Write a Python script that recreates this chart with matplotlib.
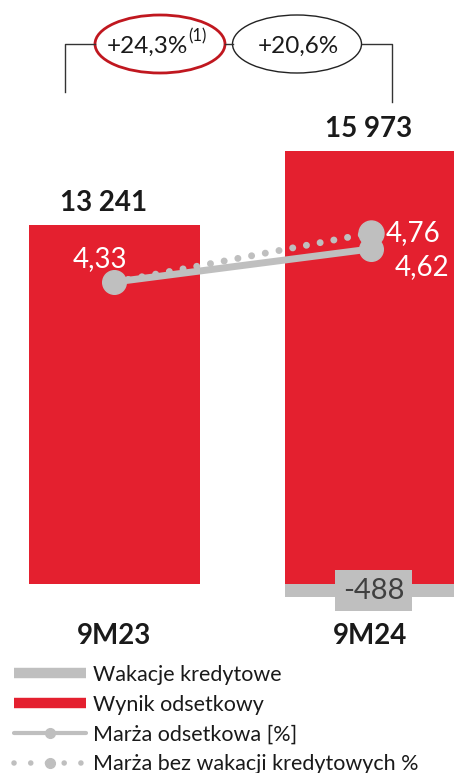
import matplotlib.pyplot as plt
from matplotlib.patches import Ellipse
from matplotlib.lines import Line2D

plt.rcParams['font.family'] = ['Lato', 'DejaVu Sans']

periods = ["9M23", "9M24"]
wynik = [13241, 15973]
wakacje = [0, -488]
marza = [4.33, 4.62]
marza_bez = [4.33, 4.76]
wynik_labels = ["13 241", "15 973"]
marza_labels = ["4,33", "4,62"]
marza_bez_label = "4,76"
wakacje_label = "-488"
growth_labels = ["+24,3%", "+20,6%"]

RED = "#E4202F"
GRAY = "#BFBFBF"

fig = plt.figure(figsize=(4.54, 7.73), dpi=100)
ax = fig.add_axes([0, 0, 1, 1])
ax.set_xlim(-0.447, 1.326)
ax.set_ylim(-6972, 21542)
ax.axis("off")

x = list(range(len(periods)))
ax.bar(x, wynik, width=0.668, color=RED, zorder=2)
ax.bar(x, wakacje, width=0.668, color=GRAY, zorder=2)

# value labels above bars
for xi, v, lab, dx in zip(x, wynik, wynik_labels, [-11, -2]):
    ax.annotate(lab, (xi, v), xytext=(dx, 22), textcoords="offset pixels",
                ha="center", va="center", fontsize=20, fontweight="bold", color="#1a1a1a")
for xi, lab in zip(x, periods):
    ax.annotate(lab, (xi, 0), xytext=(0, -52), textcoords="offset pixels",
                ha="center", va="center", fontsize=20, fontweight="bold", color="#1a1a1a")

ax.annotate(wakacje_label, (1, wakacje[1] / 2), xytext=(3, 0), textcoords="offset pixels",
            ha="center", va="center", fontsize=21, color="#404040",
            bbox=dict(boxstyle="square,pad=0.25", fc=GRAY, ec="none"), zorder=3)

# margin lines on secondary axis
ax2 = ax.twinx()
ax2.set_ylim(0.023, 6.804)
ax2.axis("off")
ax2.plot(x, marza_bez, color=GRAY, lw=5, linestyle=(0, (0.01, 2.0)),
         dash_capstyle="round", marker="o", markersize=18, markevery=[1], zorder=3)
ax2.plot(x, marza, color=GRAY, lw=5, solid_capstyle="round",
         marker="o", markersize=17, zorder=4)

ax2.annotate(marza_labels[0], (0, marza[0]), xytext=(-15, 23), textcoords="offset pixels",
             ha="center", va="center", fontsize=20, color="white")
ax2.annotate(marza_labels[1], (1, marza[1]), xytext=(51, -18), textcoords="offset pixels",
             ha="center", va="center", fontsize=20, color="white")
ax2.annotate(marza_bez_label, (1, marza_bez[1]), xytext=(43, 0), textcoords="offset pixels",
             ha="center", va="center", fontsize=20, color="white")

# growth bracket at the top (pixel coords overlay)
ov = fig.add_axes([0, 0, 1, 1], zorder=5)
ov.set_xlim(0, 454)
ov.set_ylim(773, 0)
ov.axis("off")
ov.plot([65, 65, 95], [92, 44, 44], color="#333333", lw=1)
ov.plot([225, 233], [44, 44], color="#333333", lw=1)
ov.plot([362, 392, 392], [44, 44, 102], color="#333333", lw=1)
ov.add_patch(Ellipse((160, 44), 130, 58, fc="white", ec="#C0171F", lw=2))
ov.add_patch(Ellipse((297, 44), 129, 58, fc="white", ec="#222222", lw=1))
ov.text(107, 46, growth_labels[0], ha="left", va="center", fontsize=17.5, color="#1a1a1a")
ov.text(188, 36, "(1)", ha="left", va="center", fontsize=12, color="#1a1a1a")
ov.text(298, 46, growth_labels[1], ha="center", va="center", fontsize=17.5, color="#1a1a1a")

handles = [
    Line2D([], [], color=GRAY, lw=7.5, solid_capstyle="butt"),
    Line2D([], [], color=RED, lw=7.5, solid_capstyle="butt"),
    Line2D([], [], color=GRAY, lw=3, solid_capstyle="round", marker="o", markersize=7),
    Line2D([], [], color=GRAY, lw=4, linestyle=(0, (0.01, 3.0)), dash_capstyle="round",
           marker="o", markersize=7),
]
labels = ["Wakacje kredytowe", "Wynik odsetkowy", "Marża odsetkowa [%]",
          "Marża bez wakacji kredytowych %"]
ov.legend(handles, labels, loc="upper left", bbox_to_anchor=(14 / 454, 1 - 665 / 773),
          bbox_transform=fig.transFigure, frameon=False, fontsize=15.5, numpoints=1,
          handlelength=3.35, handletextpad=0.33, labelspacing=0.45, borderpad=0,
          borderaxespad=0, labelcolor="#1a1a1a")

fig.savefig("out.png", dpi=100)
